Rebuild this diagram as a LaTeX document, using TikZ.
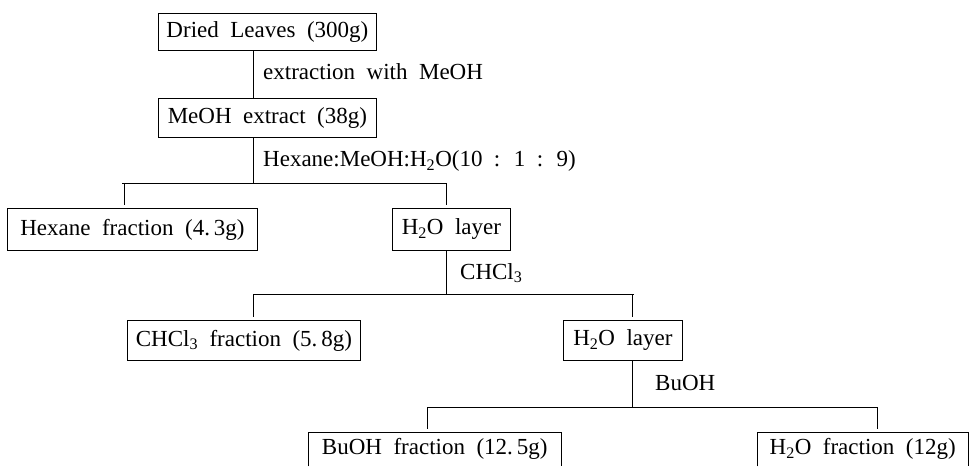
\documentclass[tikz,border=0pt]{standalone}
\usepackage{fontspec}
\setmainfont{Liberation Serif}
\newcommand\diafont{\fontsize{23}{27}\selectfont\spaceskip=0.5em plus 0.1em\relax}
\begin{document}
\begin{tikzpicture}[x=1pt,y=-1pt,
  every node/.style={font=\diafont},
  box/.style={draw, line width=0.8pt, inner sep=0pt, anchor=north west},
  openbox/.style={inner sep=0pt, anchor=north west},
  lab/.style={anchor=west, inner sep=0pt},
  conn/.style={line width=1pt}]
\useasboundingbox (0,0) rectangle (970,467);

% boxes
\node[box, minimum width=218pt, minimum height=37pt] (b1) at (158,13) {Dried Leaves (300g)};
\node[box, minimum width=218pt, minimum height=39pt] (b2) at (158,98) {MeOH extract (38g)};
\node[box, minimum width=250pt, minimum height=42pt] (b3) at (7,208) {Hexane fraction (4.\,3g)};
\node[box, minimum width=118pt, minimum height=42pt] (b4) at (392,208) {H\textsubscript{2}O layer};
\node[box, minimum width=233pt, minimum height=40pt] (b5) at (127,320) {CHCl\textsubscript{3} fraction (5.\,8g)};
\node[box, minimum width=119pt, minimum height=40pt] (b6) at (563,320) {H\textsubscript{2}O layer};
\node[openbox, minimum width=253pt, minimum height=34pt] (b7) at (308,432) {BuOH fraction (12.\,5g)};
\node[openbox, minimum width=211pt, minimum height=34pt] (b8) at (757,432) {H\textsubscript{2}O fraction (12g)};
\draw[line width=0.8pt] (b7.south west) |- (b7.north east) -- (b7.south east);
\draw[line width=0.8pt] (b8.south west) |- (b8.north east) -- (b8.south east);

% labels
\node[lab] (l1) at (263,72) {extraction with MeOH};
\node[lab] (l2) at (263,161) {Hexane:MeOH:H\textsubscript{2}O(10 : 1 : 9)};
\node[lab] (l3) at (460,273) {CHCl\textsubscript{3}};
\node[lab] (l4) at (655,383) {BuOH};

% coordinates
\coordinate (k1) at (253,0);
\coordinate (k2) at (124,0);
\coordinate (k3) at (446,0);
\coordinate (k4) at (632,0);
\coordinate (s1l) at (122,183);
\coordinate (s1r) at (447,183);
\coordinate (s2l) at (253,294);
\coordinate (s2r) at (634,294);
\coordinate (s3l) at (427,407);
\coordinate (s3r) at (877,407);

% connectors
\draw[conn] (b1.south -| k1) -- (b2.north -| k1);
\draw[conn] (b2.south -| k1) -- (s1l -| k1);
\draw[conn] (s1l) -- (s1r);
\draw[conn] (s1l -| k2) -- ([yshift=3pt]b3.north -| k2);
\draw[conn] (s1l -| k3) -- ([yshift=3pt]b4.north -| k3);

\draw[conn] (b4.south -| k3) -- (s2l -| k3);
\draw[conn] (s2l) -- (s2r);
\draw[conn] (s2l) -- ([yshift=3pt]b5.north -| s2l);
\draw[conn] (s2r -| k4) -- ([yshift=3pt]b6.north -| k4);

\draw[conn] (b6.south -| k4) -- (s3l -| k4);
\draw[conn] (s3l) -- (s3r);
\draw[conn] (s3l) -- ([yshift=3pt]b7.north -| s3l);
\draw[conn] (s3r) -- ([yshift=3pt]b8.north -| s3r);
\end{tikzpicture}
\end{document}
